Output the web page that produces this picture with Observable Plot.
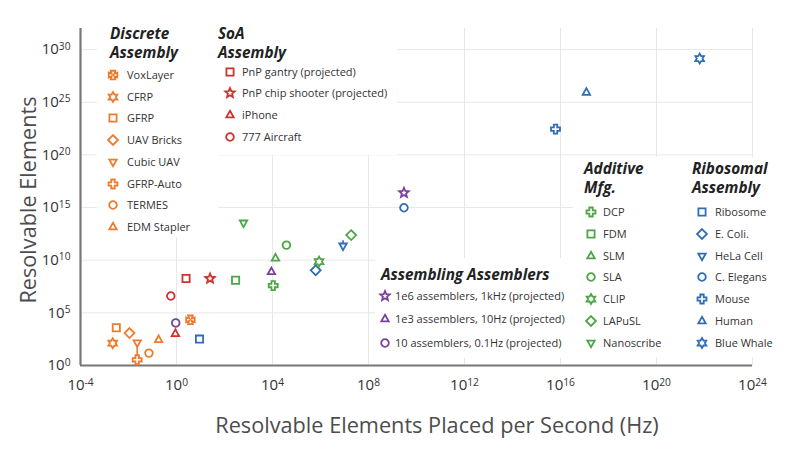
<!DOCTYPE html>
<html><head><meta charset="utf-8">
<script src="https://cdn.jsdelivr.net/npm/d3@7"></script>
<script src="https://cdn.jsdelivr.net/npm/@observablehq/plot@0.6"></script>
<style>
body{margin:0;background:#fff;font-family:"Open Sans",sans-serif;}
#wrap{position:relative;width:800px;height:453px;overflow:hidden;}
#wrap svg{display:block;}
.box{position:absolute;background:#fff;}
.lg-title{position:absolute;font-weight:700;font-style:italic;font-size:15.3px;color:#222;line-height:17px;height:17px;white-space:nowrap;}
.lg-item{position:absolute;font-size:11px;color:#333;white-space:nowrap;line-height:14px;height:14px;}
.lg-sym{position:absolute;width:14px;height:14px;}
.ax-title{position:absolute;font-size:21.7px;color:#4d4d4d;white-space:nowrap;line-height:26px;}
</style></head><body><div id="wrap"></div><script>
// ---------------- data ----------------
const groups = ["Discrete Assembly","SoA Assembly","Assembling Assemblers","Additive Mfg.","Ribosomal Assembly"];
const groupColors = ["#EC7B2D","#D0312D","#7B3F9E","#4DA546","#2F6EB5"];
const titleLines = [["Discrete","Assembly"],["SoA","Assembly"],["Assembling Assemblers"],["Additive","Mfg."],["Ribosomal","Assembly"]];

const seriesName = ["VoxLayer","CFRP","GFRP","UAV Bricks","Cubic UAV","GFRP-Auto","TERMES","EDM Stapler",
  "PnP gantry (projected)","PnP chip shooter (projected)","iPhone","777 Aircraft",
  "1e6 assemblers, 1kHz (projected)","1e3 assemblers, 10Hz (projected)","10 assemblers, 0.1Hz (projected)",
  "DCP","FDM","SLM","SLA","CLIP","LAPuSL","Nanoscribe",
  "Ribosome","E. Coli.","HeLa Cell","C. Elegans","Mouse","Human","Blue Whale"];
const seriesGroup = [0,0,0,0,0,0,0,0, 1,1,1,1, 2,2,2, 3,3,3,3,3,3,3, 4,4,4,4,4,4,4];
const seriesSymbol = ["vox","hexagram","square","diamond","triangleDown","plus","circle","triangle",
  "square","star","triangle","circle",
  "star","triangle","circle",
  "plus","square","triangle","circle","hexagram","diamond","triangleDown",
  "square","diamond","triangleDown","circle","plus","triangle","hexagram"];
const elementsPerSecond = [3.8, 2.2e-3, 3.1e-3, 1.1e-2, 2.3e-2, 2.3e-2, 7.1e-2, 0.18,
  2.5, 25, 0.9, 0.58,
  3e9, 9e3, 0.93,
  1.07e4, 290, 1.33e4, 3.8e4, 8.7e5, 1.9e7, 620,
  9.1, 6.3e5, 8.7e6, 3e9, 6.2e15, 1.2e17, 6.3e21];
const resolvableElements = [2.2e4, 130, 3.9e3, 1.2e3, 145, 3.5, 15, 280,
  1.8e8, 1.8e8, 1.05e3, 4e6,
  2.5e16, 7.8e8, 1.1e4,
  3.9e7, 1.26e8, 1.55e10, 2.7e11, 7.4e9, 2.4e12, 3.5e13,
  320, 1.1e9, 2.3e11, 9.5e14, 2.8e22, 8.5e25, 1.4e29];
// vertical range bars
const rangeSeries = ["Cubic UAV","HeLa Cell"];
const rangeLow = [3.5, 2.3e11];
const rangeHigh = [145, 7e11];

const xTickExp = [-4,0,4,8,12,16,20,24];
const yTickExp = [0,5,10,15,20,25,30];

// ---------------- symbols ----------------
const Rad = s => Math.sqrt(s / Math.PI);
function poly(c, pts){ c.moveTo(pts[0][0], pts[0][1]); for (let i=1;i<pts.length;i++) c.lineTo(pts[i][0], pts[i][1]); c.closePath(); }
function starPts(n, ro, ri){ const p=[]; for(let i=0;i<2*n;i++){ const a=-Math.PI/2+i*Math.PI/n; const r=i%2?ri:ro; p.push([r*Math.cos(a), r*Math.sin(a)]);} return p; }
const symbols = {
  circle: {draw(c,s){const r=Rad(s)*0.85; c.moveTo(r,0); c.arc(0,0,r,0,2*Math.PI);}},
  square: {draw(c,s){const h=Rad(s)*0.8; poly(c,[[-h,-h],[h,-h],[h,h],[-h,h]]);}},
  diamond: {draw(c,s){const h=Rad(s)*1.1; poly(c,[[0,-h],[h,0],[0,h],[-h,0]]);}},
  triangle: {draw(c,s){const r=Rad(s)*0.95; poly(c,[[0,-r],[r*0.866,r*0.55],[-r*0.866,r*0.55]]);}},
  triangleDown: {draw(c,s){const r=Rad(s)*0.95; poly(c,[[0,r],[r*0.866,-r*0.55],[-r*0.866,-r*0.55]]);}},
  plus: {draw(c,s){const a=Rad(s)*1.0,b=a*0.38; poly(c,[[-b,-a],[b,-a],[b,-b],[a,-b],[a,b],[b,b],[b,a],[-b,a],[-b,b],[-a,b],[-a,-b],[-b,-b]]);}},
  star: {draw(c,s){const r=Rad(s)*1.1; poly(c,starPts(5,r,r*0.45));}},
  hexagram: {draw(c,s){const r=Rad(s)*1.1; poly(c,starPts(6,r,r/Math.sqrt(3)));}},
  vox: {draw(c,s){const a=Rad(s)*0.95,b=a*0.55,q=a*0.3;
    poly(c,[[-b,-a],[b,-a],[q,-q],[a,-b],[a,b],[q,q],[b,a],[-b,a],[-q,q],[-a,b],[-a,-b],[-q,-q]]);}}
};

// ---------------- chart ----------------
const data = seriesName.map((name,i)=>({name, color: groupColors[seriesGroup[i]], symbol: seriesSymbol[i], x: elementsPerSecond[i], y: resolvableElements[i]}));
const ranges = rangeSeries.map((name,i)=>{ const d = data.find(e=>e.name===name); return {x:d.x, y1:rangeLow[i], y2:rangeHigh[i], color:d.color}; });
const xTicks = xTickExp.map(e=>Math.pow(10,e));
const yTicks = yTickExp.map(e=>Math.pow(10,e));
const fmt = d => "10^" + Math.round(Math.log10(d));
const R0 = 4.5;

const chart = Plot.plot({
  width: 800, height: 453,
  marginLeft: 80, marginRight: 48, marginTop: 28, marginBottom: 88,
  x: {type:"log", domain:[1e-4,1e24]},
  y: {type:"log", domain:[1,1e32]},
  color: {type:"identity"},
  style: {fontFamily:"'Open Sans', sans-serif", background:"#fff", overflow:"visible"},
  marks: [
    Plot.gridX(xTicks, {stroke:"#e8e8e8", strokeOpacity:1, strokeWidth:1}),
    Plot.gridY(yTicks, {stroke:"#e8e8e8", strokeOpacity:1, strokeWidth:1}),
    Plot.axisX(xTicks, {tickSize:0, tickPadding:14, tickFormat:fmt, fontSize:15, fill:"#333", label:null}),
    Plot.axisY(yTicks, {tickSize:0, tickPadding:10, tickFormat:fmt, fontSize:15, fill:"#333", label:null}),
    Plot.ruleX([1e-4], {stroke:"#777", strokeWidth:2.2}),
    Plot.ruleY([1], {stroke:"#777", strokeWidth:2.2}),
    Plot.ruleX(ranges, {x:"x", y1:"y1", y2:"y2", stroke:"color", strokeWidth:1.6}),
    ...Object.keys(symbols).map(k => Plot.dot(data.filter(d=>d.symbol===k), {x:"x", y:"y", stroke:"color", fill:"white", symbol: symbols[k], r:R0, strokeWidth:1.8}))
  ]
});

// superscript tick labels
const NS = "http://www.w3.org/2000/svg";
chart.querySelectorAll('g[aria-label$="tick label"] text').forEach(t=>{
  const m = t.textContent.match(/^10\^(.*)$/);
  if (m) { t.textContent = "10"; const ts = document.createElementNS(NS,"tspan"); ts.setAttribute("dy","-0.45em"); ts.setAttribute("font-size","0.68em"); ts.textContent = m[1]; t.appendChild(ts); }
});

const wrap = document.getElementById("wrap");
wrap.appendChild(chart);

// axis titles
const yt = document.createElement("div"); yt.className="ax-title"; yt.textContent="Resolvable Elements";
yt.style.left="28px"; yt.style.top="200px"; yt.style.transform="translate(-50%,-50%) rotate(-90deg)";
wrap.appendChild(yt);
const xt = document.createElement("div"); xt.className="ax-title"; xt.textContent="Resolvable Elements Placed per Second (Hz)";
xt.style.left="437px"; xt.style.top="425px"; xt.style.transform="translate(-50%,-50%)";
wrap.appendChild(xt);

// legends (HTML overlay with white boxes)
const legendLayout = [
  {box:[97,20,121,217], titleX:110, titleY:[33,52], sx:113, tx:127, y0:75, dy:21.7},
  {box:[212,20,185,135], titleX:218, titleY:[33,52], sx:230, tx:242, y0:71.7, dy:21.7},
  {box:[375,258,198,100], titleX:381, titleY:[274], sx:385, tx:395, y0:295.7, dy:23.5},
  {box:[573,157,110,200], titleX:584, titleY:[168,187], sx:591, tx:603, y0:211.7, dy:21.9},
  {box:[683,157,105,200], titleX:692, titleY:[168,187], sx:702, tx:715, y0:211.7, dy:21.9}
];
groups.forEach((g,gi)=>{
  const L = legendLayout[gi];
  const box = document.createElement("div"); box.className="box";
  Object.assign(box.style,{left:L.box[0]+"px",top:L.box[1]+"px",width:L.box[2]+"px",height:L.box[3]+"px"});
  wrap.appendChild(box);
  titleLines[gi].forEach((line,li)=>{
    const t=document.createElement("div"); t.className="lg-title"; t.textContent=line;
    t.style.left=L.titleX+"px"; t.style.top=(L.titleY[li]-8.5)+"px"; wrap.appendChild(t);
  });
  data.filter((d,i)=>seriesGroup[i]===gi).forEach((d,k)=>{
    const y = L.y0 + k*L.dy;
    const svg = document.createElementNS(NS,"svg"); svg.setAttribute("class","lg-sym");
    svg.setAttribute("width",14); svg.setAttribute("height",14);
    svg.style.left=(L.sx-7)+"px"; svg.style.top=(y-7)+"px";
    const p = document.createElementNS(NS,"path");
    p.setAttribute("d", d3.symbol(symbols[d.symbol], Math.PI*R0*R0)());
    p.setAttribute("transform","translate(7,7)");
    p.setAttribute("fill","white"); p.setAttribute("stroke",d.color); p.setAttribute("stroke-width",1.8);
    svg.appendChild(p); wrap.appendChild(svg);
    const it=document.createElement("div"); it.className="lg-item"; it.textContent=d.name;
    it.style.left=L.tx+"px"; it.style.top=(y-7)+"px"; wrap.appendChild(it);
  });
});
</script></body></html>
